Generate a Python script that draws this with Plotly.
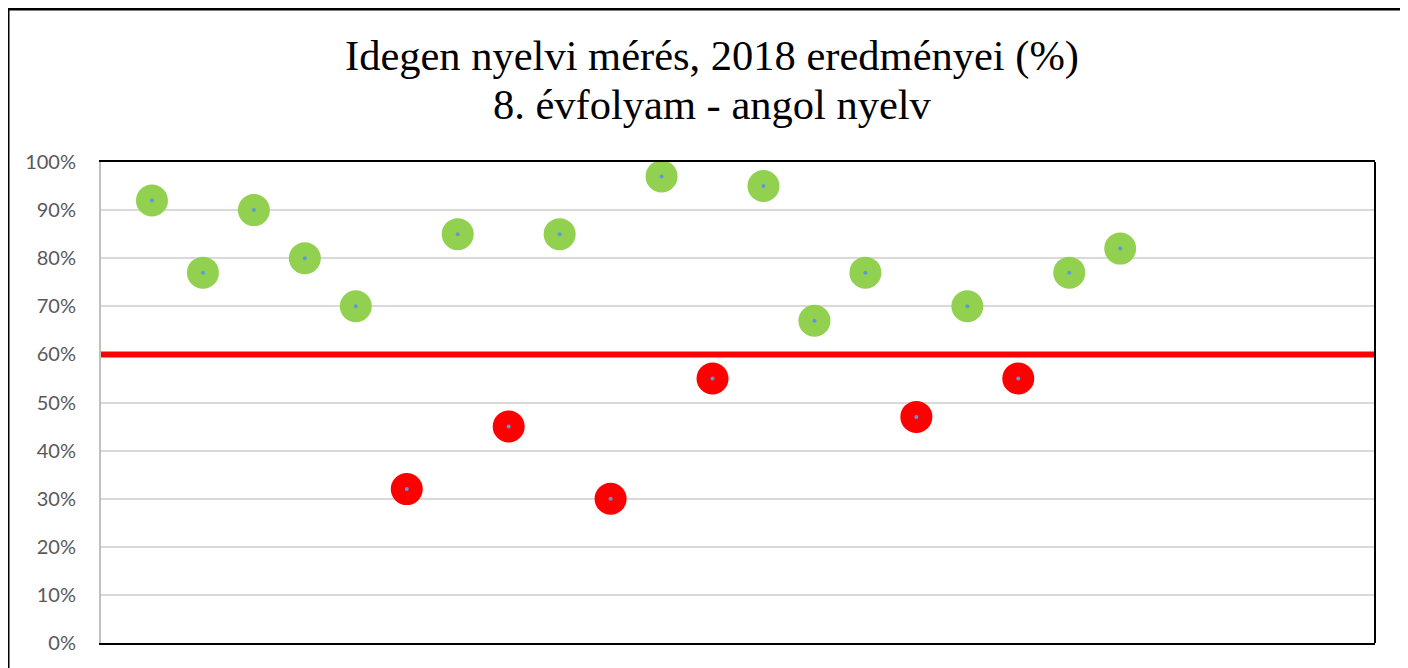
import plotly.graph_objects as go

schools = list(range(1, 21))
scores = [92, 77, 90, 80, 70, 32, 85, 45, 85, 30, 97, 55, 95, 67, 77, 47, 70, 55, 77, 82]
threshold = 60
x_range = [0, 25]
y_ticks = [0, 10, 20, 30, 40, 50, 60, 70, 80, 90, 100]
y_tick_labels = [f"{v}%" for v in y_ticks]
title_line1 = "Idegen nyelvi mérés, 2018 eredményei (%)"
title_line2 = "8. évfolyam - angol nyelv"

colors = ["#92D050" if s >= threshold else "#FF0000" for s in scores]

W, H = 1408, 668
ML, MR, MT, MB = 93, 41, 154, 33
PW, PH = W - ML - MR, H - MT - MB

fig = go.Figure()
fig.add_trace(go.Scatter(
    x=x_range, y=[threshold, threshold], mode="lines",
    line=dict(color="#FF0000", width=6), hoverinfo="skip", showlegend=False,
))
fig.add_trace(go.Scatter(
    x=schools, y=scores, mode="markers",
    marker=dict(size=32, color=colors, line=dict(width=0)), showlegend=False,
))
fig.add_trace(go.Scatter(
    x=schools, y=scores, mode="markers",
    marker=dict(size=4, color="#5B9BD5", line=dict(width=0)), showlegend=False,
))

title_font = dict(family="Liberation Serif, Times New Roman, serif", size=42.5, color="black")

fig.update_layout(
    width=W, height=H,
    margin=dict(l=ML, r=MR, t=MT, b=MB),
    paper_bgcolor="white", plot_bgcolor="white",
    title=dict(
        text=title_line1, x=0.5, xanchor="center",
        yref="container", y=1 - 47 / H, yanchor="middle",
        font=title_font,
    ),
    annotations=[
        dict(text=title_line2, xref="paper", yref="paper",
             x=(W / 2 - ML) / PW, y=(PH + MT - 96) / PH,
             xanchor="center", yanchor="middle", showarrow=False, font=title_font),
    ],
    xaxis=dict(
        range=x_range, showgrid=False, zeroline=False, showticklabels=False,
        showline=True, linecolor="black", linewidth=2, mirror=True, ticks="",
    ),
    yaxis=dict(
        range=[0, 100], tickvals=y_ticks, ticktext=y_tick_labels,
        showgrid=True, gridcolor="#D9D9D9", gridwidth=2, zeroline=False,
        showline=True, linecolor="#BFBFBF", linewidth=2,
        tickfont=dict(family="Lato, Carlito, Calibri, sans-serif", size=20, color="#595959"),
        ticklabelstandoff=19, ticks="",
    ),
    shapes=[
        dict(type="line", xref="x domain", yref="y domain", x0=1, x1=1, y0=0, y1=1,
             line=dict(color="black", width=2)),
        dict(type="rect", xref="paper", yref="paper",
             x0=(0 - ML) / PW, x1=(1395 - ML) / PW,
             y0=(PH + MT - 700) / PH, y1=(PH + MT - 1) / PH,
             line=dict(color="black", width=3), layer="above"),
    ],
)

fig.write_html("out.html")
